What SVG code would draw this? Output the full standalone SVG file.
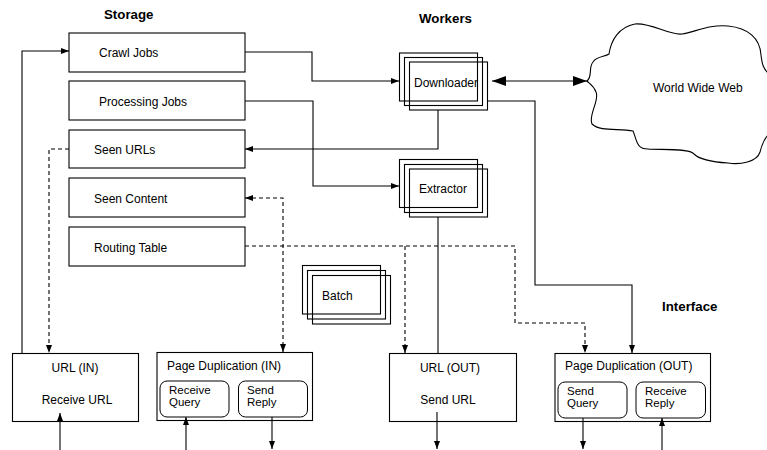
<svg xmlns="http://www.w3.org/2000/svg" width="767" height="450" viewBox="0 0 767 450">
<style>
.bx{fill:#fff;stroke:#000;stroke-width:1.1}
.st{fill:none;stroke:#000;stroke-width:1.1}
.in{fill:#fff;stroke:#000;stroke-width:1}
.t{font-family:"Liberation Sans",Arial,sans-serif;font-size:12px;fill:#000}
.s{font-family:"Liberation Sans",Arial,sans-serif;font-size:11.5px;fill:#000}
.h{font-family:"Liberation Sans",Arial,sans-serif;font-size:13.3px;font-weight:bold;fill:#000}
.c{fill:none;stroke:#000;stroke-width:1.1}
.d{fill:none;stroke:#000;stroke-width:1.1;stroke-dasharray:4,3}
</style>
<defs>
<marker id="a" viewBox="0 0 8 6" refX="8" refY="3" markerWidth="8" markerHeight="6" markerUnits="userSpaceOnUse" orient="auto-start-reverse"><path d="M0,0 L8,3 L0,6 z" fill="#000"/></marker>
<marker id="A" viewBox="0 0 14 10" refX="14" refY="5" markerWidth="14" markerHeight="10" markerUnits="userSpaceOnUse" orient="auto-start-reverse"><path d="M0,0 L14,5 L0,10 z" fill="#000"/></marker>
</defs>
<rect width="767" height="450" fill="#fff"/>
<text class="h" x="104" y="19">Storage</text>
<text class="h" x="419" y="22.5">Workers</text>
<text class="h" x="662" y="310.5">Interface</text>
<g id="crawl-jobs"><rect class="bx" x="69" y="33" width="176" height="39"/><text class="t" x="99" y="57">Crawl Jobs</text></g>
<g id="processing-jobs"><rect class="bx" x="69" y="81" width="176" height="39"/><text class="t" x="99" y="106">Processing Jobs</text></g>
<g id="seen-urls"><rect class="bx" x="69" y="130" width="176" height="38"/><text class="t" x="94" y="154">Seen URLs</text></g>
<g id="seen-content"><rect class="bx" x="69" y="178" width="176" height="39"/><text class="t" x="94" y="203">Seen Content</text></g>
<g id="routing-table"><rect class="bx" x="69" y="227" width="176" height="39"/><text class="t" x="94" y="252">Routing Table</text></g>
<g id="downloader">
<rect class="st" x="399.5" y="53" width="78" height="48"/>
<rect class="st" x="404.5" y="57.5" width="78" height="48"/>
<rect class="st" x="409.5" y="62" width="78" height="48"/>
<text class="t" x="414" y="86.5">Downloader</text>
</g>
<g id="extractor">
<rect class="st" x="399.5" y="159.5" width="78" height="48"/>
<rect class="st" x="404.5" y="164.5" width="78" height="48"/>
<rect class="st" x="409.5" y="169" width="78" height="48"/>
<text class="t" x="419" y="193">Extractor</text>
</g>
<g id="batch">
<rect class="st" x="302.5" y="265.5" width="78" height="48.5"/>
<rect class="st" x="307.5" y="270.5" width="78" height="48.5"/>
<rect class="st" x="312.5" y="275.5" width="78" height="48.5"/>
<text class="t" x="322" y="300">Batch</text>
</g>
<g id="world-wide-web">
<path class="bx" d="M587,81 C593,76 588,68 593,62 C597,56 605,57 609,54 C611,40 619,27 635,24 C650,22 670,36 682,34 C695,32 710,24 728,26 C748,28 760,38 761,55 C762,62 762,68 770,75 L775,75 L775,130 C767,133 763,140 760,152 C757,162 740,165 728,163 C712,162 700,160 694,154 C690,148 660,150 648,149 C636,149 637,140 633,131 C620,128 600,132 592,124 C588,115 600,100 596,92 C594,86 590,84 587,81 Z"/>
<text class="t" x="653" y="91.5">World Wide Web</text>
</g>
<g id="url-in"><rect class="bx" x="12.5" y="353.5" width="126" height="68"/>
<text class="t" x="75" y="372" text-anchor="middle">URL (IN)</text>
<text class="t" x="77" y="404" text-anchor="middle">Receive URL</text></g>
<g id="page-dup-in"><rect class="bx" x="157" y="352.5" width="155.5" height="68"/>
<text class="t" x="167" y="369.5">Page Duplication (IN)</text>
<rect class="in" x="160" y="381" width="69" height="36" rx="7"/>
<text class="s" x="169" y="393.5">Receive</text><text class="s" x="169" y="406">Query</text>
<rect class="in" x="238.5" y="381" width="69" height="36" rx="7"/>
<text class="s" x="247" y="393.5">Send</text><text class="s" x="247" y="406">Reply</text></g>
<g id="url-out"><rect class="bx" x="389.5" y="353.5" width="127" height="68"/>
<text class="t" x="450" y="372" text-anchor="middle">URL (OUT)</text>
<text class="t" x="448" y="404" text-anchor="middle">Send URL</text></g>
<g id="page-dup-out"><rect class="bx" x="555" y="353.5" width="155.5" height="68"/>
<text class="t" x="565" y="370">Page Duplication (OUT)</text>
<rect class="in" x="558" y="382" width="69" height="36" rx="7"/>
<text class="s" x="567" y="394.5">Send</text><text class="s" x="567" y="407">Query</text>
<rect class="in" x="636" y="382" width="69.5" height="36" rx="7"/>
<text class="s" x="645" y="394.5">Receive</text><text class="s" x="645" y="407">Reply</text></g>
<g id="connectors">
<path class="c" d="M245,52 H312 V81 H399" marker-end="url(#a)"/>
<path class="c" d="M245,101 H313 V186 H399" marker-end="url(#a)"/>
<path class="c" d="M438,110 V149 H245" marker-end="url(#a)"/>
<path class="c" d="M492,81 H587" marker-start="url(#A)" marker-end="url(#A)"/>
<path class="c" d="M487,101 H535 V285 H632 V353" marker-end="url(#a)"/>
<path class="c" d="M438,217 V353"/>
<path class="c" d="M22,353 V51 H69" marker-end="url(#a)"/>
<path class="d" d="M69,149 H49 V353" marker-end="url(#a)"/>
<path class="d" d="M245,198 H283 V352" marker-start="url(#a)" marker-end="url(#a)"/>
<path class="d" d="M245,246 H515 V323 H585 V353" marker-end="url(#a)"/>
<path class="d" d="M405,246 V353" marker-end="url(#a)"/>
<path class="c" d="M60,450 V413" marker-end="url(#a)"/>
<path class="c" d="M186,450 V417" marker-end="url(#a)"/>
<path class="c" d="M272,417 V449" marker-end="url(#a)"/>
<path class="c" d="M437,412 V449" marker-end="url(#a)"/>
<path class="c" d="M583,418 V449" marker-end="url(#a)"/>
<path class="c" d="M662,450 V418" marker-end="url(#a)"/>
</g>
</svg>
